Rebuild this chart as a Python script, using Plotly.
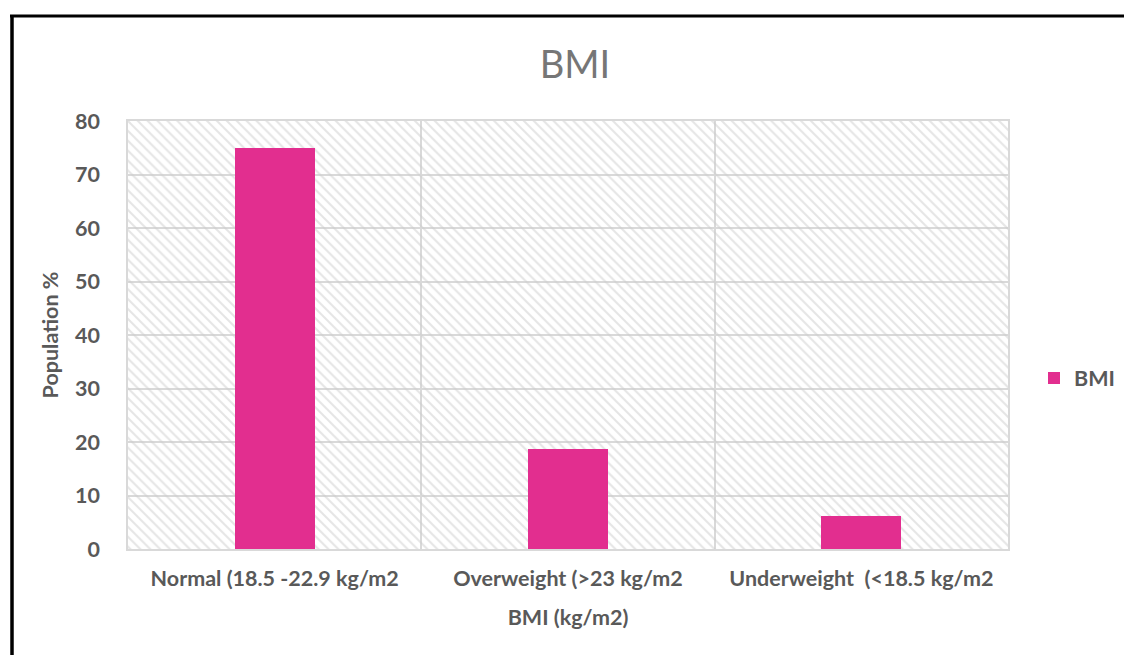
import plotly.graph_objects as go

categories = ["Normal (18.5 -22.9 kg/m2", "Overweight (>23 kg/m2", "Underweight  (<18.5 kg/m2"]
values = [75, 18.75, 6.25]
y_ticks = [0, 10, 20, 30, 40, 50, 60, 70, 80]
series_name = "BMI"

W, H = 1124, 655
L, R, T, B = 128, 116, 121, 106
pw, ph = W - L - R, H - T - B
ymax = y_ticks[-1]

def px_x(px):
    return (px - L) / pw

def px_y(py):
    return (H - B - py) / ph

gray = "#595959"
font = "Lato, 'Open Sans', sans-serif"
fs = 21.5

fig = go.Figure()
# hatched plot-area background
fig.add_trace(go.Bar(
    x=categories, y=[ymax] * len(categories), width=1,
    marker=dict(color="rgba(0,0,0,0)", line=dict(width=0),
                pattern=dict(shape="\\", fgcolor="#cccccc", bgcolor="rgba(0,0,0,0)",
                             size=7, solidity=0.3, fillmode="overlay")),
    showlegend=False, hoverinfo="skip"))
fig.add_trace(go.Bar(
    x=categories, y=values, width=0.273, name=series_name,
    marker=dict(color="#E22E8F", line=dict(width=0))))

fig.update_layout(
    width=W, height=H, barmode="overlay",
    margin=dict(l=L, r=R, t=T, b=B, autoexpand=False),
    paper_bgcolor="white", plot_bgcolor="white",
    font=dict(family=font, color=gray),
    title=dict(text="BMI", x=575 / W, xanchor="center", y=1 - 65 / H, yanchor="middle",
               yref="container", xref="container",
               font=dict(size=38, color="#767676", family=font)),
    legend=dict(x=px_x(1034), y=px_y(378), xanchor="left", yanchor="middle",
                font=dict(size=fs, color=gray, family=font, weight="bold"),
                itemwidth=30, bgcolor="rgba(0,0,0,0)"),
    showlegend=True,
    bargap=0,
)
fig.update_xaxes(
    type="category", tickson="boundaries", showgrid=True, gridcolor="#d9d9d9", gridwidth=1.5,
    showline=True, linecolor="#d9d9d9", linewidth=1.5, mirror=True, ticks="",
    tickfont=dict(size=fs, color=gray, family=font, weight="bold"),
    title=dict(text="BMI (kg/m2)", font=dict(size=fs, color=gray, family=font, weight="bold"), standoff=20),
    range=[-0.5, len(categories) - 0.5], ticklabelstandoff=9,
)
fig.update_yaxes(
    range=[0, ymax], tickvals=y_ticks, showgrid=True, gridcolor="#d9d9d9", gridwidth=1.5,
    showline=True, linecolor="#d9d9d9", linewidth=1.5, mirror=True, ticks="",
    tickfont=dict(size=fs, color=gray, family=font, weight="bold"),
    title=dict(text="Population %", font=dict(size=fs, color=gray, family=font, weight="bold"), standoff=10),
    ticklabelstandoff=22, zeroline=False,
)
# page border (left and top)
fig.add_shape(type="line", xref="paper", yref="paper", x0=px_x(12), x1=px_x(12),
              y0=px_y(16), y1=px_y(H + 5), line=dict(color="black", width=3.5))
fig.add_shape(type="line", xref="paper", yref="paper", x0=px_x(10), x1=px_x(W + 5),
              y0=px_y(16), y1=px_y(16), line=dict(color="black", width=3))

fig.write_html("out.html", config={"displayModeBar": False},
               post_script="document.body.style.margin='0';document.body.style.overflow='hidden';")
